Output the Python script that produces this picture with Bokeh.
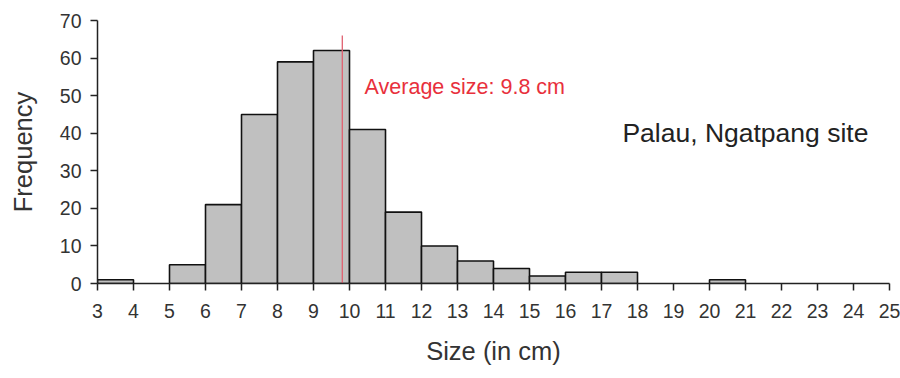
from bokeh.plotting import figure
from bokeh.models import Range1d, FixedTicker, Label
from bokeh.embed import file_html
from bokeh.resources import INLINE

bin_left = [3, 4, 5, 6, 7, 8, 9, 10, 11, 12, 13, 14, 15, 16, 17, 18, 19, 20, 21, 22, 23, 24]
freq = [1, 0, 5, 21, 45, 59, 62, 41, 19, 10, 6, 4, 2, 3, 3, 0, 0, 1, 0, 0, 0, 0]
x_ticks = list(range(3, 26))
y_ticks = [0, 10, 20, 30, 40, 50, 60, 70]
avg_size = 9.8
avg_top = 66
avg_label = "Average size: 9.8 cm"
site_label = "Palau, Ngatpang site"

FONT = "Liberation Sans"

p = figure(width=900, height=378, output_backend="svg", toolbar_location=None,
           x_range=Range1d(3, 25), y_range=Range1d(0, 70),
           min_border_left=97, min_border_right=11, min_border_top=20, min_border_bottom=95)
p.outline_line_color = None
p.xgrid.grid_line_color = None
p.ygrid.grid_line_color = None

lefts = [b for b, f in zip(bin_left, freq) if f > 0]
rights = [b + 1 for b, f in zip(bin_left, freq) if f > 0]
tops = [f for f in freq if f > 0]
p.quad(left=lefts, right=rights, bottom=0, top=tops,
       fill_color="#c0c0c0", line_color="#111111", line_width=1.6)

p.segment(x0=[avg_size], y0=[0], x1=[avg_size], y1=[avg_top], line_color="#e06070", line_width=1.3)

p.add_layout(Label(x=10.42, y=52.2, text=avg_label, text_color="#e8303c",
                   text_font=FONT, text_font_size="21.5px", text_baseline="middle"))
p.add_layout(Label(x=17.58, y=40.0, text=site_label, text_color="#222222",
                   text_font=FONT, text_font_size="26.5px", text_baseline="middle"))

for ax in (p.xaxis[0], p.yaxis[0]):
    ax.axis_line_color = "#222222"
    ax.axis_line_width = 1.5
    ax.major_tick_line_color = "#222222"
    ax.major_tick_line_width = 1.5
    ax.major_tick_out = 7
    ax.major_tick_in = 0
    ax.minor_tick_line_color = None
    ax.major_label_text_font = FONT
    ax.major_label_text_font_size = "19.5px"
    ax.major_label_text_color = "#333333"
    ax.axis_label_text_font = FONT
    ax.axis_label_text_font_size = "25.5px"
    ax.axis_label_text_font_style = "normal"
    ax.axis_label_text_color = "#333333"

p.xaxis[0].ticker = FixedTicker(ticks=x_ticks)
p.yaxis[0].ticker = FixedTicker(ticks=y_ticks)
p.xaxis[0].axis_label = "Size (in cm)"
p.yaxis[0].axis_label = "Frequency"
p.xaxis[0].major_label_standoff = 13
p.yaxis[0].major_label_standoff = 9
p.xaxis[0].axis_label_standoff = 16
p.yaxis[0].axis_label_standoff = 20

open("out.html", "w").write(file_html(p, INLINE))
